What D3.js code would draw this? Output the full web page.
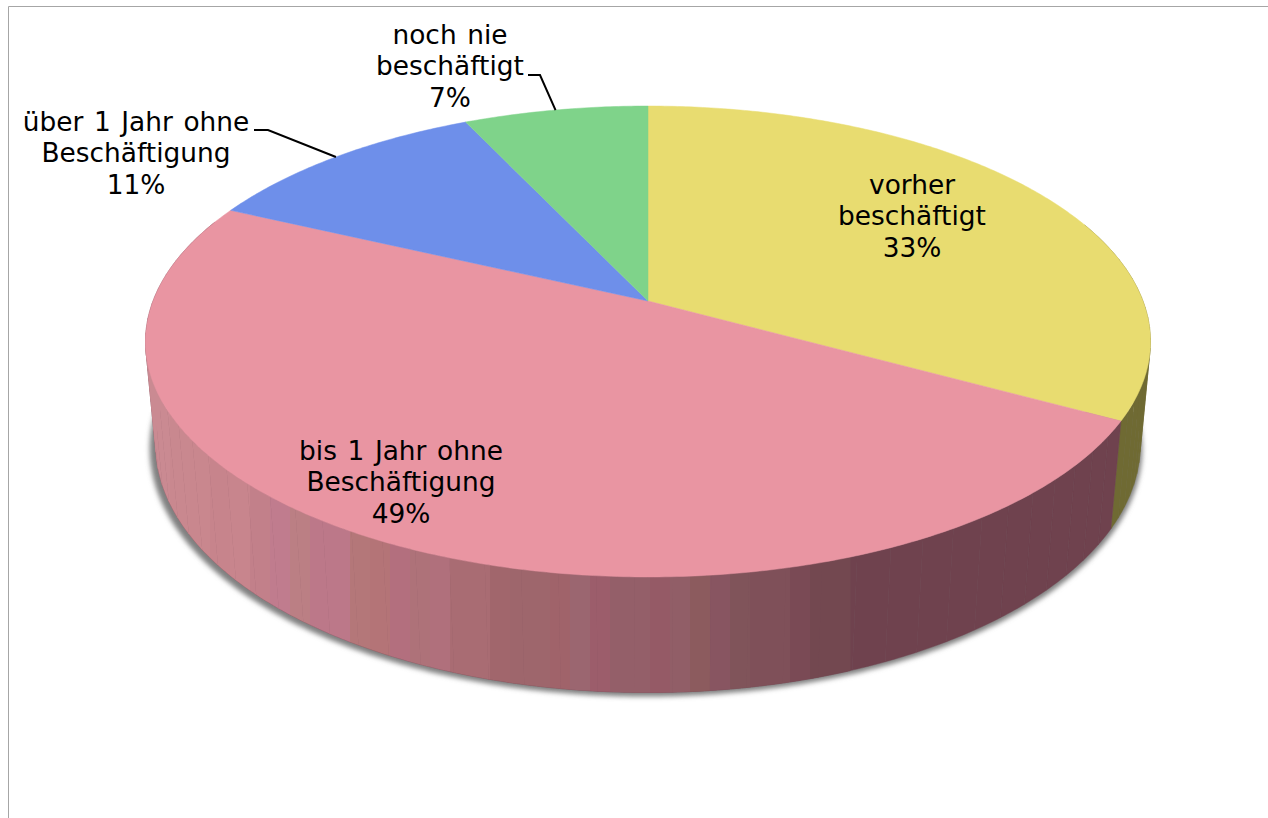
<!DOCTYPE html>
<html>
<head>
<meta charset="utf-8">
<script src="https://cdn.jsdelivr.net/npm/d3@7"></script>
<style>
  html, body { margin: 0; padding: 0; background: #fff; overflow: hidden; }
  text { font-family: "DejaVu Sans", sans-serif; font-size: 26.4px; word-spacing: 2.2px; fill: #000; }
</style>
</head>
<body>
<svg id="chart" width="1268" height="818"></svg>
<script>
// Part 1: Data
const categories = ["vorher beschäftigt", "bis 1 Jahr ohne Beschäftigung", "über 1 Jahr ohne Beschäftigung", "noch nie beschäftigt"];
const shares = [33, 49, 11, 7];
const labelLines = [
    ["vorher", "beschäftigt", "33%"],
    ["bis 1 Jahr ohne", "Beschäftigung", "49%"],
    ["über 1 Jahr ohne", "Beschäftigung", "11%"],
    ["noch nie", "beschäftigt", "7%"]
];
const topColors = ["#e8dc70", "#e995a2", "#6e8fea", "#7fd38a"];
const wallColors = ["#6f6a33", "#6f424e", "#4a5f9c", "#558d5c"];
const pinkWallBands = [
    "#ca8a92", "#ca8a92", "#c9888f", "#c9878e", "#c7848c", "#c8858d", "#c2808a", "#c07c8e", "#bb7f84", "#bc7889", "#bc7889",
    "#b47779", "#b47477", "#b36f7e", "#ae7279", "#b0707c", "#a96c73", "#a96c73", "#a1666c", "#9e666c", "#9e666c",
    "#a0636a", "#9b6670", "#9c5d6b", "#945f69", "#945f69", "#955a66", "#915e67", "#8c5b5e", "#885561", "#80545a",
    "#7f5059", "#7f5059", "#7a4a55", "#734850", "#734850"
];

// Part 2: Layout
const svg = d3.select("#chart");
const apex = { x: 648, y: 301 };
const persp = { a: 228.5, b: 495, k: 0.172, drop: 103.5, shrink: 0.02 };
const labelPos = [
    { x: 912, y: 184 },
    { x: 401, y: 450 },
    { x: 136, y: 121 },
    { x: 450, y: 34 }
];
const lineGap = 31.8;
const leaders = [
    null,
    null,
    { x: 254, y: 130, elbow: 268 },
    { x: 528, y: 75, elbow: 540 }
];

// tilted disc: unit circle seen in perspective, level 0 is the top face, 1 the bottom
function project(angle, level) {
    const u = Math.sin(angle);
    const v = Math.cos(angle);
    const w = 1 + persp.k * v + level * persp.shrink;
    return [
        apex.x + persp.b * u / w,
        apex.y + (-persp.a * v + level * persp.drop) / w
    ];
}

const pie = d3.pie().sort(null).value(d => d);
const slices = pie(shares);
const line = d3.line();

function arcPoints(start, end, level) {
    const n = Math.max(2, Math.ceil((end - start) / 0.01));
    const t = d3.scaleLinear().domain([0, n]).range([start, end]);
    return d3.range(n + 1).map(i => project(t(i), level));
}

function wallPath(a0, a1) {
    return line(arcPoints(a0, a1, 0).concat(arcPoints(a0, a1, 1).reverse())) + "Z";
}

// Part 3: Frame
svg.append("path")
    .attr("d", line([[8.5, 818], [8.5, 6.5], [1268, 6.5]]))
    .attr("fill", "none")
    .attr("stroke", "#a6a6a6")
    .attr("stroke-width", 1);

// Part 4: Shadow under the disc
const defs = svg.append("defs");
defs.append("filter").attr("id", "soft")
    .attr("x", "-5%").attr("y", "-5%").attr("width", "110%").attr("height", "110%")
    .append("feGaussianBlur").attr("stdDeviation", 2.5);
defs.append("clipPath").attr("id", "belowRim")
    .append("rect").attr("x", 0).attr("y", 412).attr("width", 1268).attr("height", 406);

svg.append("g")
    .attr("clip-path", "url(#belowRim)")
    .append("path")
    .attr("d", line(arcPoints(0, 2 * Math.PI, 1)) + "Z")
    .attr("transform", "translate(-2, 4) translate(648, 400) scale(1.008, 1) translate(-648, -400)")
    .attr("fill", "#808080")
    .attr("filter", "url(#soft)");

// Part 5: Walls, cut into thin facets so the silhouette stays closed, far ones first
const facets = [];
slices.forEach((s, i) => {
    const count = 48;
    const t = d3.scaleLinear().domain([0, count]).range([s.startAngle, s.endAngle]);
    d3.range(count).forEach(j => {
        facets.push({ slice: i, a0: t(j), a1: t(j + 1), color: wallColors[i] });
    });
});
const visibleFacets = facets
    .filter(d => Math.cos(d.a0) < 0.35 || Math.cos(d.a1) < 0.35)
    .sort((p, q) => Math.cos(q.a0) - Math.cos(p.a0));

svg.append("g").selectAll("path")
    .data(visibleFacets)
    .join("path")
    .attr("d", d => wallPath(d.a0, d.a1))
    .attr("fill", d => d.color)
    .attr("stroke", d => d.color)
    .attr("stroke-width", 0.4);

// Part 6: Vertical colour bands on the big slice's wall
const bandX = d3.scaleBand()
    .domain(d3.range(pinkWallBands.length))
    .range([130, 850]);

// a mask, not a clip: the white stroke closes the seams between facets
const pinkMask = defs.append("mask")
    .attr("id", "pinkWall")
    .attr("maskUnits", "userSpaceOnUse")
    .attr("x", 0).attr("y", 0).attr("width", 1268).attr("height", 818);
pinkMask.selectAll("path")
    .data(facets.filter(d => d.slice === 1))
    .join("path")
    .attr("d", d => wallPath(d.a0, d.a1))
    .attr("fill", "#fff")
    .attr("stroke", "#fff")
    .attr("stroke-width", 0.5);

svg.append("g")
    .attr("mask", "url(#pinkWall)")
    .selectAll("rect")
    .data(pinkWallBands)
    .join("rect")
    .attr("x", (d, i) => bandX(i))
    .attr("y", 330)
    .attr("width", bandX.bandwidth() + 0.5)
    .attr("height", 380)
    .attr("fill", d => d);

// Part 7: Top face
svg.append("g").selectAll("path")
    .data(slices)
    .join("path")
    .attr("d", d => line([[apex.x, apex.y]].concat(arcPoints(d.startAngle, d.endAngle, 0))) + "Z")
    .attr("fill", (d, i) => topColors[i])
    .attr("stroke", (d, i) => topColors[i])
    .attr("stroke-width", 0.5);

// Part 8: Leader lines end on the rim at the middle of the slice
slices.forEach((s, i) => {
    const l = leaders[i];
    if (!l) return;
    const rim = project((s.startAngle + s.endAngle) / 2, 0);
    svg.append("path")
        .attr("d", line([[l.x, l.y], [l.elbow, l.y], rim]))
        .attr("fill", "none")
        .attr("stroke", "#000")
        .attr("stroke-width", 2);
});

// Part 9: Labels
labelLines.forEach((lines, i) => {
    svg.append("text")
        .attr("aria-label", categories[i])
        .attr("text-anchor", "middle")
        .selectAll("tspan")
        .data(lines)
        .join("tspan")
        .attr("x", labelPos[i].x)
        .attr("y", (d, j) => labelPos[i].y + j * lineGap)
        .attr("dy", "0.36em")
        .text(d => d);
});
</script>
</body>
</html>
